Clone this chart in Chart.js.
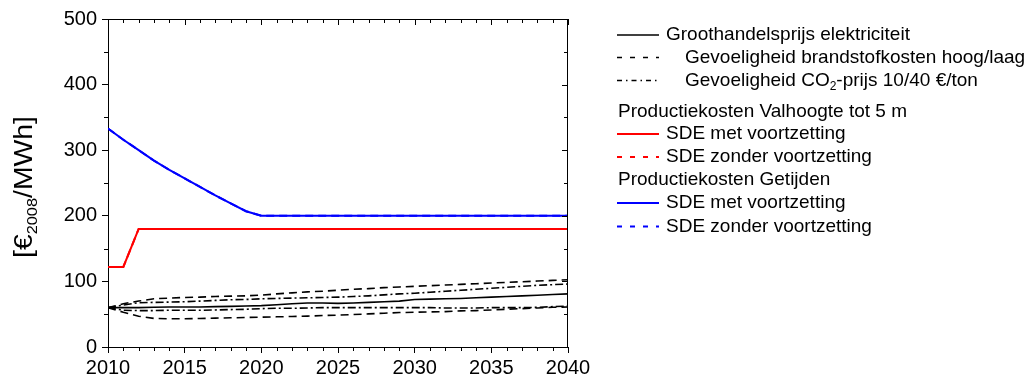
<!DOCTYPE html>
<html>
<head>
<meta charset="utf-8">
<script src="https://cdn.jsdelivr.net/npm/chart.js@4"></script>
<style>
  html, body { margin: 0; padding: 0; background: #fff; }
  #wrap { width: 1027px; height: 378px; }
</style>
</head>
<body>
<div id="wrap"><canvas id="c" width="1027" height="378"></canvas></div>
<script>
// Years on the horizontal axis
const years = [2010, 2011, 2012, 2013, 2014, 2015, 2016, 2017, 2018, 2019, 2020,
               2021, 2022, 2023, 2024, 2025, 2026, 2027, 2028, 2029, 2030,
               2031, 2032, 2033, 2034, 2035, 2036, 2037, 2038, 2039, 2040];

// Wholesale electricity price and its sensitivities [€2008/MWh]
const groothandel = [60, 60, 60, 60.5, 61, 61, 61, 61.5, 62, 62.5, 63,
                     64.5, 66, 67, 67, 66.5, 67, 68, 69, 70, 72.5,
                     73, 73.5, 74, 75, 76, 77, 78, 79, 80, 81];
const brandstofHoog = [60, 66, 70, 73.5, 74.5, 75.5, 76, 77, 77.5, 78, 79,
                       81, 82.5, 84, 85, 86.5, 88, 89, 90.5, 91.5, 92.5,
                       93.5, 94.5, 95.5, 96.5, 97.5, 98.5, 99.5, 100.5, 101.5, 102.5];
const brandstofLaag = [60, 53, 47, 43.5, 43, 43, 43.5, 44, 44.5, 45, 45.5,
                       46, 46.5, 47, 48, 48.5, 49.5, 50.5, 51.5, 52.5, 53,
                       53.5, 54, 55, 55.5, 56.5, 57.5, 58.5, 59.5, 60.5, 61];
const co2Hoog = [60, 64, 67.5, 68, 68.5, 69, 70, 71, 72, 72.5, 73.5,
                 74, 74.5, 75, 75.5, 76, 77, 78, 79.5, 81, 82,
                 83.5, 85, 86.5, 88, 89.5, 91, 92.5, 94, 95, 96];
const co2Laag = [60, 56, 55.5, 55.5, 56, 56, 56, 56.5, 57, 57.5, 58.5,
                 59, 59, 59.5, 60, 60, 60, 60, 60, 60, 60,
                 60, 59.5, 59.5, 59.5, 60, 60, 60, 60.5, 61.5, 62.5];

// Production costs, low-head hydro up to 5 m
const valhoogteMet = [122, 122, 180, 180, 180, 180, 180, 180, 180, 180, 180,
                      180, 180, 180, 180, 180, 180, 180, 180, 180, 180,
                      180, 180, 180, 180, 180, 180, 180, 180, 180, 180];
const valhoogteZonder = [122, 122, 180, 180, 180, 180, 180, 180, 180, 180, 180,
                         180, 180, 180, 180, 180, 180, 180, 180, 180, 180,
                         180, 180, 180, 180, 180, 180, 180, 180, 180, 180];

// Production costs, tidal energy
const getijdenMet = [333, 316, 300, 284, 270, 257, 244, 231, 219, 207, 200,
                     200, 200, 200, 200, 200, 200, 200, 200, 200, 200,
                     200, 200, 200, 200, 200, 200, 200, 200, 200, 200];
const getijdenZonder = [333, 316, 300, 284, 270, 257, 244, 231, 219, 207, 200,
                        200, 200, 200, 200, 200, 200, 200, 200, 200, 200,
                        200, 200, 200, 200, 200, 200, 200, 200, 200, 200];

const xTicks = [2010, 2015, 2020, 2025, 2030, 2035, 2040];
const yTicks = [0, 100, 200, 300, 400, 500];

const FONT = '"Liberation Sans", Arial, Helvetica, sans-serif';
const DASH = [8, 5];
const DASHDOT = [8, 3, 2, 3];

function pts(vals) { return years.map((y, i) => ({ x: y, y: vals[i] })); }
function ds(label, vals, color, dash, width) {
  return { label, data: pts(vals), borderColor: color, backgroundColor: color,
           borderWidth: width, borderDash: dash, pointRadius: 0, tension: 0, fill: false };
}

// Legend rows: kind 'line' draws a sample, 'head' is a text-only group header
const legendRows = [
  { kind: 'line', text: 'Groothandelsprijs elektriciteit', color: '#000', dash: [], tx: 666 },
  { kind: 'line', text: 'Gevoeligheid brandstofkosten hoog/laag', color: '#000', dash: [5, 8], tx: 685 },
  { kind: 'line', text: ['Gevoeligheid CO', '2', '-prijs 10/40 €/ton'], color: '#000', dash: [5, 4, 1.5, 4], tx: 685 },
  { kind: 'head', text: 'Productiekosten Valhoogte tot 5 m', tx: 618 },
  { kind: 'line', text: 'SDE met voortzetting', color: '#ff0000', dash: [], tx: 666 },
  { kind: 'line', text: 'SDE zonder voortzetting', color: '#ff0000', dash: [5, 8], tx: 666 },
  { kind: 'head', text: 'Productiekosten Getijden', tx: 618 },
  { kind: 'line', text: 'SDE met voortzetting', color: '#0000ff', dash: [], tx: 666 },
  { kind: 'line', text: 'SDE zonder voortzetting', color: '#0000ff', dash: [5, 8], tx: 666 }
];
const legendRowY = [35, 57.5, 80.5, 111.5, 134, 157, 180, 203, 226.5];
const LEGEND_FONT = '19px ' + FONT;

const decorations = {
  id: 'decorations',
  afterDraw(chart) {
    const ctx = chart.ctx;
    const xs = chart.scales.x, ys = chart.scales.y;
    const a = chart.chartArea;
    ctx.save();
    ctx.strokeStyle = '#000';
    ctx.lineWidth = 1;
    ctx.setLineDash([]);
    // top and right frame
    ctx.beginPath();
    ctx.moveTo(a.left, a.top + 0.5); ctx.lineTo(a.right, a.top + 0.5);
    ctx.moveTo(a.right - 0.5, a.top); ctx.lineTo(a.right - 0.5, a.bottom);
    ctx.stroke();
    // ticks: every year on x, every 50 on y
    ctx.beginPath();
    for (let yr = 2010; yr <= 2040; yr++) {
      const px = Math.round(xs.getPixelForValue(yr)) + 0.5;
      const major = yr % 5 === 0;
      if (!major) { ctx.moveTo(px, a.bottom); ctx.lineTo(px, a.bottom + 4); }
      ctx.moveTo(px, a.top); ctx.lineTo(px, a.top + (major ? 6 : 4));
    }
    for (let v = 0; v <= 500; v += 50) {
      const py = Math.round(ys.getPixelForValue(v)) + 0.5;
      const major = v % 100 === 0;
      if (!major) { ctx.moveTo(a.left, py); ctx.lineTo(a.left - 4, py); }
      ctx.moveTo(a.right, py); ctx.lineTo(a.right - (major ? 6 : 4), py);
    }
    ctx.stroke();

    // y-axis title with subscript
    ctx.fillStyle = '#000';
    ctx.textBaseline = 'alphabetic';
    const big = '26px ' + FONT, small = '15px ' + FONT;
    ctx.font = big; const w1 = ctx.measureText('[€').width; const w3 = ctx.measureText('/MWh]').width;
    ctx.font = small; const w2 = ctx.measureText('2008').width;
    const total = w1 + w2 + w3;
    ctx.translate(32, 258);
    ctx.rotate(-Math.PI / 2);
    ctx.scale(142 / total, 1);
    ctx.font = big; ctx.fillText('[€', 0, 0);
    ctx.font = small; ctx.fillText('2008', w1, 5);
    ctx.font = big; ctx.fillText('/MWh]', w1 + w2, 0);
    ctx.restore();

    // legend
    ctx.save();
    ctx.fillStyle = '#000';
    ctx.textBaseline = 'middle';
    legendRows.forEach((r, i) => {
      const y = legendRowY[i];
      if (r.kind === 'line') {
        ctx.strokeStyle = r.color;
        ctx.lineWidth = r.color === '#000' ? 1.6 : 2;
        ctx.setLineDash(r.dash);
        ctx.beginPath(); ctx.moveTo(617, y); ctx.lineTo(659, y); ctx.stroke();
        ctx.setLineDash([]);
      }
      ctx.font = LEGEND_FONT;
      if (Array.isArray(r.text)) {
        let x = r.tx;
        ctx.fillText(r.text[0], x, y); x += ctx.measureText(r.text[0]).width;
        ctx.font = '12px ' + FONT;
        ctx.fillText(r.text[1], x, y + 6); x += ctx.measureText(r.text[1]).width;
        ctx.font = LEGEND_FONT;
        ctx.fillText(r.text[2], x, y);
      } else {
        ctx.fillText(r.text, r.tx, y);
      }
    });
    ctx.restore();
  }
};

new Chart(document.getElementById('c'), {
  type: 'line',
  data: {
    datasets: [
      ds('Groothandelsprijs elektriciteit', groothandel, '#000', [], 1.6),
      ds('Brandstofkosten hoog', brandstofHoog, '#000', DASH, 1.6),
      ds('Brandstofkosten laag', brandstofLaag, '#000', DASH, 1.6),
      ds('CO2-prijs hoog', co2Hoog, '#000', DASHDOT, 1.6),
      ds('CO2-prijs laag', co2Laag, '#000', DASHDOT, 1.6),
      ds('Valhoogte SDE met voortzetting', valhoogteMet, '#ff0000', [], 2),
      ds('Valhoogte SDE zonder voortzetting', valhoogteZonder, '#ff0000', DASH, 2),
      ds('Getijden SDE met voortzetting', getijdenMet, '#0000ff', [], 2),
      ds('Getijden SDE zonder voortzetting', getijdenZonder, '#0000ff', DASH, 2)
    ]
  },
  options: {
    responsive: false,
    animation: false,
    events: [],
    layout: { padding: { left: 0, right: 459, top: 19, bottom: 0 } },
    plugins: { legend: { display: false }, tooltip: { enabled: false } },
    scales: {
      x: {
        type: 'linear', min: 2010, max: 2040,
        afterBuildTicks(scale) { scale.ticks = xTicks.map(v => ({ value: v })); },
        afterFit(scale) { scale.height = 31; },
        ticks: { color: '#000', font: { family: FONT, size: 20 }, padding: 3, maxRotation: 0, autoSkip: false,
                 callback: v => String(v) },
        grid: { drawOnChartArea: false, drawTicks: true, tickLength: 6, color: '#000', lineWidth: 1 },
        border: { display: true, color: '#000', width: 1 }
      },
      y: {
        min: 0, max: 500,
        afterBuildTicks(scale) { scale.ticks = yTicks.map(v => ({ value: v })); },
        afterFit(scale) { scale.width = 108; },
        ticks: { color: '#000', font: { family: FONT, size: 20 }, padding: 5, autoSkip: false,
                 callback: v => String(v) },
        grid: { drawOnChartArea: false, drawTicks: true, tickLength: 6, color: '#000', lineWidth: 1 },
        border: { display: true, color: '#000', width: 1 }
      }
    }
  },
  plugins: [decorations]
});
</script>
</body>
</html>
